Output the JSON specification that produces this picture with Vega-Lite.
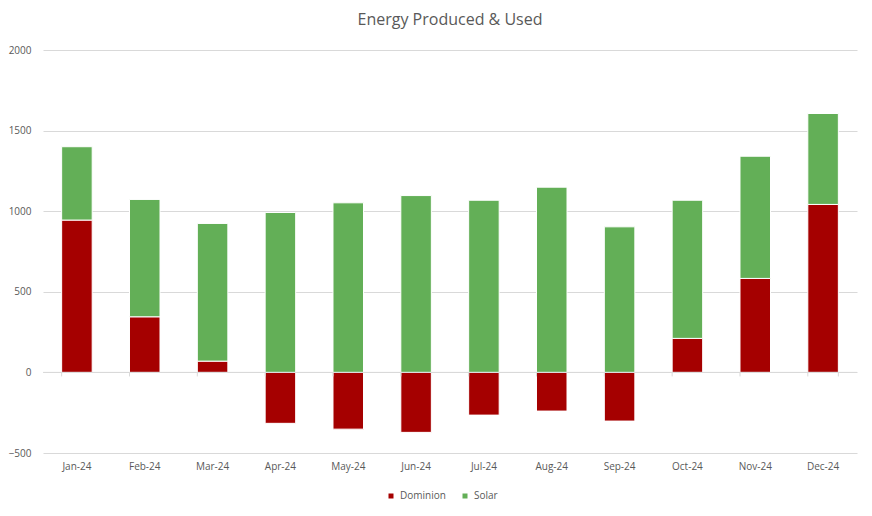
{
  "$schema": "https://vega.github.io/schema/vega-lite/v6.json",
  "autosize": {"type": "fit", "contains": "padding"},
  "width": 872,
  "height": 516,
  "padding": {"left": 8, "right": 14, "top": 12, "bottom": 45},
  "background": "#ffffff",
  "title": {"text": "Energy Produced & Used", "fontSize": 16, "font": "Open Sans", "fontWeight": "normal", "color": "#595959", "anchor": "middle", "offset": 17},
  "config": {
    "view": {"stroke": null},
    "font": "Open Sans",
    "axis": {"labelFont": "Open Sans", "labelFontSize": 10, "labelColor": "#595959"},
    "legend": {"labelFont": "Open Sans", "labelFontSize": 10, "labelColor": "#595959"}
  },
  "datasets": {
    "energy": [
      {"month": "Jan-24", "source": "Dominion", "ord": 1, "kwh": 945},
      {"month": "Jan-24", "source": "Solar", "ord": 2, "kwh": 455},
      {"month": "Feb-24", "source": "Dominion", "ord": 1, "kwh": 345},
      {"month": "Feb-24", "source": "Solar", "ord": 2, "kwh": 728},
      {"month": "Mar-24", "source": "Dominion", "ord": 1, "kwh": 70},
      {"month": "Mar-24", "source": "Solar", "ord": 2, "kwh": 854},
      {"month": "Apr-24", "source": "Dominion", "ord": 1, "kwh": -316},
      {"month": "Apr-24", "source": "Solar", "ord": 2, "kwh": 992},
      {"month": "May-24", "source": "Dominion", "ord": 1, "kwh": -352},
      {"month": "May-24", "source": "Solar", "ord": 2, "kwh": 1052},
      {"month": "Jun-24", "source": "Dominion", "ord": 1, "kwh": -372},
      {"month": "Jun-24", "source": "Solar", "ord": 2, "kwh": 1097},
      {"month": "Jul-24", "source": "Dominion", "ord": 1, "kwh": -265},
      {"month": "Jul-24", "source": "Solar", "ord": 2, "kwh": 1068},
      {"month": "Aug-24", "source": "Dominion", "ord": 1, "kwh": -240},
      {"month": "Aug-24", "source": "Solar", "ord": 2, "kwh": 1149},
      {"month": "Sep-24", "source": "Dominion", "ord": 1, "kwh": -302},
      {"month": "Sep-24", "source": "Solar", "ord": 2, "kwh": 903},
      {"month": "Oct-24", "source": "Dominion", "ord": 1, "kwh": 211},
      {"month": "Oct-24", "source": "Solar", "ord": 2, "kwh": 857},
      {"month": "Nov-24", "source": "Dominion", "ord": 1, "kwh": 583},
      {"month": "Nov-24", "source": "Solar", "ord": 2, "kwh": 758},
      {"month": "Dec-24", "source": "Dominion", "ord": 1, "kwh": 1042},
      {"month": "Dec-24", "source": "Solar", "ord": 2, "kwh": 564}
    ],
    "zero": [{"v": 0}],
    "ticks": [
      {"month": "Jan-24", "top": 0, "bot": -25},
      {"month": "Feb-24", "top": 0, "bot": -25},
      {"month": "Mar-24", "top": 0, "bot": -25},
      {"month": "Apr-24", "top": 0, "bot": -25},
      {"month": "May-24", "top": 0, "bot": -25},
      {"month": "Jun-24", "top": 0, "bot": -25},
      {"month": "Jul-24", "top": 0, "bot": -25},
      {"month": "Aug-24", "top": 0, "bot": -25},
      {"month": "Sep-24", "top": 0, "bot": -25},
      {"month": "Oct-24", "top": 0, "bot": -25},
      {"month": "Nov-24", "top": 0, "bot": -25},
      {"month": "Dec-24", "top": 0, "bot": -25}
    ],
    "lasttick": [{"month": "Dec-24", "top": 0, "bot": -25}]
  },
  "layer": [
    {
      "data": {"name": "energy"},
      "mark": {"type": "bar", "stroke": "#ffffff", "strokeWidth": 1},
      "encoding": {
        "x": {
          "field": "month", "type": "nominal", "sort": null,
          "scale": {"paddingInner": 0.55, "paddingOuter": 0.275},
          "axis": {"title": null, "labelAngle": 0, "domain": false, "ticks": false, "labelPadding": 8}
        },
        "y": {
          "field": "kwh", "type": "quantitative", "stack": "zero",
          "scale": {"domain": [-500, 2000], "nice": false},
          "axis": {"title": null, "values": [-500, 0, 500, 1000, 1500, 2000], "format": "d", "domain": false, "ticks": false, "gridColor": "#d9d9d9", "gridWidth": 1, "labelPadding": 12}
        },
        "color": {
          "field": "source", "type": "nominal",
          "scale": {"domain": ["Dominion", "Solar"], "range": ["#a50000", "#63af57"]},
          "legend": {"title": null, "orient": "none", "legendX": 343, "legendY": 441, "direction": "horizontal", "padding": 0, "symbolType": "square", "symbolSize": 25, "symbolStrokeWidth": 0, "symbolOffset": 0, "columnPadding": 14, "labelOffset": 4}
        },
        "order": {"field": "ord", "type": "quantitative"}
      }
    },
    {
      "data": {"name": "zero"},
      "mark": {"type": "rule", "color": "#d9d9d9", "strokeWidth": 1},
      "encoding": {"y": {"field": "v", "type": "quantitative"}}
    },
    {
      "data": {"name": "ticks"},
      "mark": {"type": "rule", "color": "#d9d9d9", "strokeWidth": 1},
      "encoding": {
        "x": {"field": "month", "type": "nominal", "sort": null, "bandPosition": 0},
        "y": {"field": "top", "type": "quantitative"},
        "y2": {"field": "bot"}
      }
    },
    {
      "data": {"name": "lasttick"},
      "mark": {"type": "rule", "color": "#d9d9d9", "strokeWidth": 1},
      "encoding": {
        "x": {"field": "month", "type": "nominal", "sort": null, "bandPosition": 1},
        "y": {"field": "top", "type": "quantitative"},
        "y2": {"field": "bot"}
      }
    }
  ]
}
